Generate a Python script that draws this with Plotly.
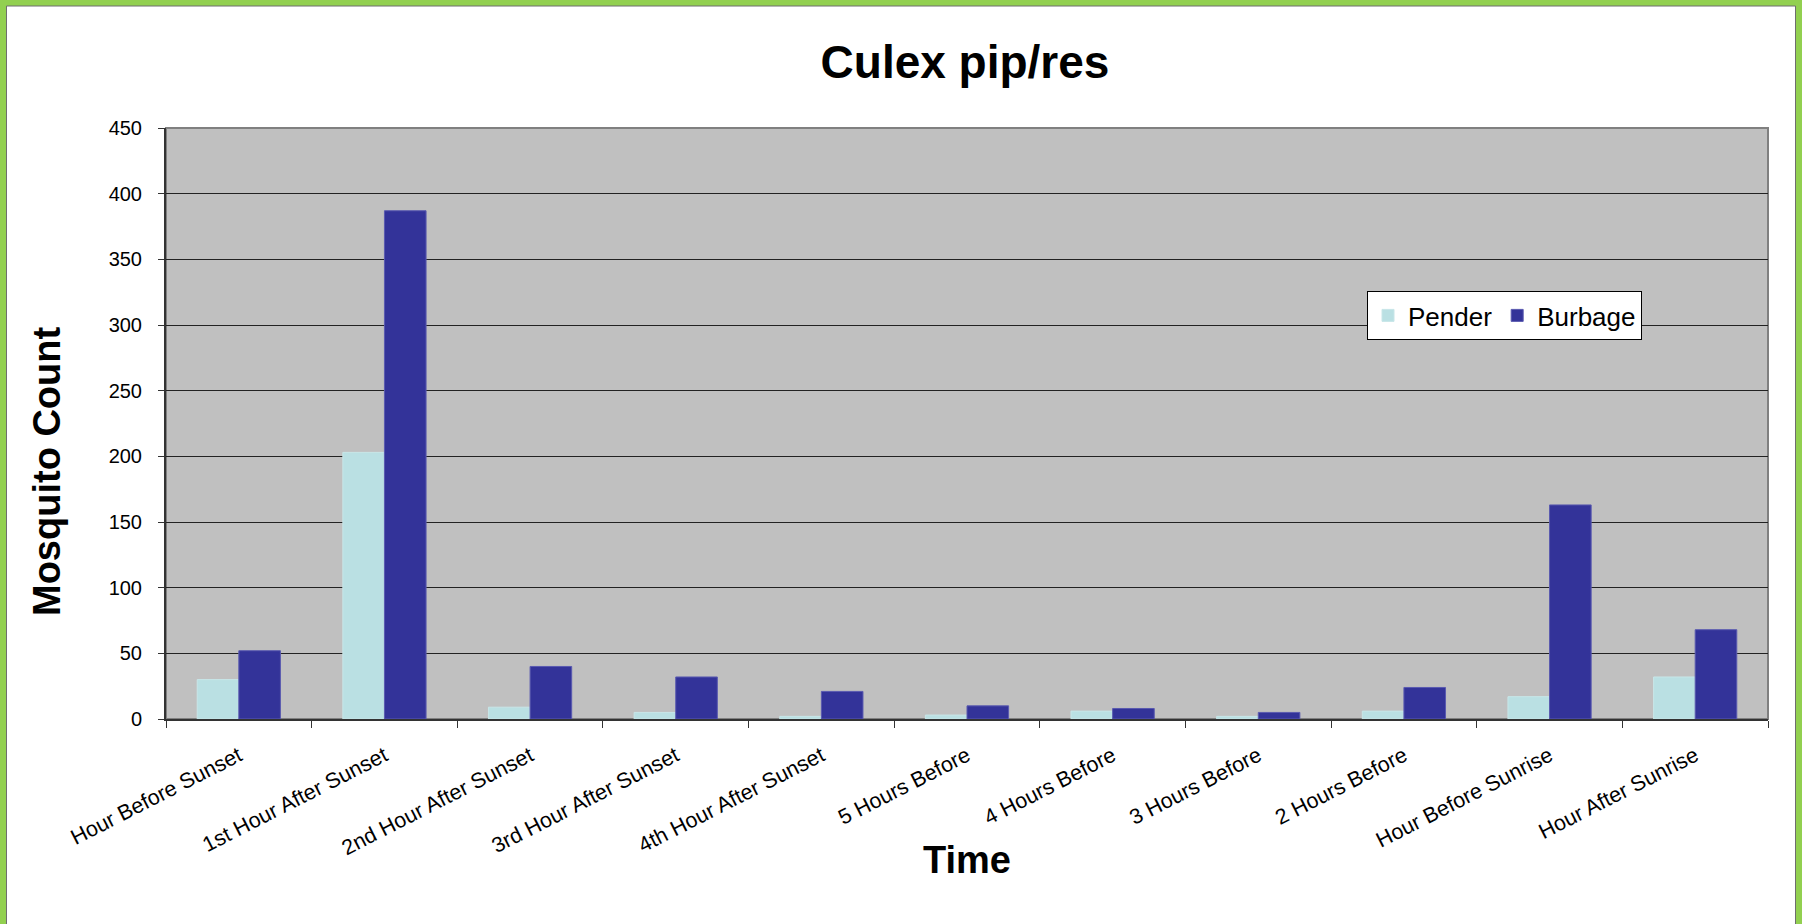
import plotly.graph_objects as go

categories = ["Hour Before Sunset", "1st Hour After Sunset", "2nd Hour After Sunset",
              "3rd Hour After Sunset", "4th Hour After Sunset", "5 Hours Before",
              "4 Hours Before", "3 Hours Before", "2 Hours Before",
              "Hour Before Sunrise", "Hour After Sunrise"]
pender = [30, 203, 9, 5, 2, 3, 6, 2, 6, 17, 32]
burbage = [52, 387, 40, 32, 21, 10, 8, 5, 24, 163, 68]
y_ticks = [0, 50, 100, 150, 200, 250, 300, 350, 400, 450]

W, H = 1802, 924
L, R, T, B = 166, 34, 128, 205
PW, PH = W - L - R, H - T - B
FONT = "Liberation Sans, Arial, sans-serif"

def px(xp):
    return (xp - L) / PW

def py(yp):
    return (H - B - yp) / PH

fig = go.Figure()
fig.add_trace(go.Bar(name="Pender", x=categories, y=pender,
                     marker=dict(color="#BAE0E3", line=dict(color="#C8E6E8", width=1))))
fig.add_trace(go.Bar(name="Burbage", x=categories, y=burbage,
                     marker=dict(color="#333399", line=dict(color="#5A5AB0", width=1))))

fig.update_layout(
    width=W, height=H,
    margin=dict(l=L, r=R, t=T, b=B),
    paper_bgcolor="white", plot_bgcolor="#C0C0C0",
    barmode="group", bargap=1.5 / 3.5, bargroupgap=0,
    font=dict(family=FONT, color="black", size=20),
    title=dict(text="Culex pip/res", x=965 / W, xanchor="center", xref="container",
               y=1 - 62 / H, yanchor="middle",
               font=dict(family=FONT, size=46, weight="bold", color="black")),
    showlegend=True,
    legend=dict(orientation="h", x=px(1367), y=py(291), xanchor="left", yanchor="top",
                bgcolor="white", bordercolor="black", borderwidth=1,
                font=dict(family=FONT, size=26, color="black"),
                itemwidth=30, tracegroupgap=0),
)

fig.update_xaxes(
    type="category", tickson="boundaries", ticks="outside", ticklen=7, tickcolor="#333",
    showline=True, linecolor="#333", linewidth=2, showgrid=False,
    tickangle=-27, tickfont=dict(family=FONT, size=21.5, color="black"),
    ticklabelstandoff=14,
)
fig.update_yaxes(
    range=[0, 450], tickvals=y_ticks, ticks="outside", ticklen=6, tickcolor="#333",
    showline=True, linecolor="#333", linewidth=2,
    showgrid=True, gridcolor="#222", gridwidth=1, zeroline=False,
    tickfont=dict(family=FONT, size=20, color="black"), ticklabelstandoff=12,
)

# plot area outline (gray, as in the reference)
fig.add_shape(type="rect", xref="paper", yref="paper", x0=0, x1=1, y0=0, y1=1,
              line=dict(color="#808080", width=2), layer="below")

# outer green frame with thin gray inner line
fig.add_shape(type="rect", xref="paper", yref="paper",
              x0=px(3), x1=px(W - 3), y0=py(3), y1=py(H + 20),
              line=dict(color="#92D050", width=6), layer="above")
fig.add_shape(type="rect", xref="paper", yref="paper",
              x0=px(6.5), x1=px(W - 6.5), y0=py(6), y1=py(H + 20),
              line=dict(color="#6E6E6E", width=1), layer="above")

# axis titles
fig.add_annotation(text="Mosquito Count", xref="paper", yref="paper",
                   x=px(47), y=py(472), xanchor="center", yanchor="middle",
                   textangle=-90, showarrow=False,
                   font=dict(family=FONT, size=38, weight="bold", color="black"))
fig.add_annotation(text="Time", xref="paper", yref="paper",
                   x=px(967), y=py(860), xanchor="center", yanchor="middle",
                   showarrow=False,
                   font=dict(family=FONT, size=38, weight="bold", color="black"))

fig.write_html("out.html", config={"displayModeBar": False},
               post_script="document.body.style.margin='0';document.body.style.overflow='hidden';")
